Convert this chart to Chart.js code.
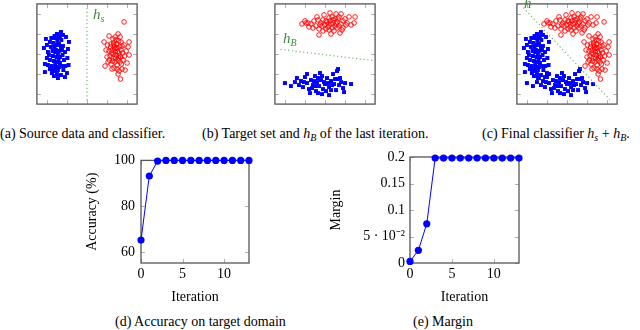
<!DOCTYPE html>
<html>
<head>
<meta charset="utf-8">
<script src="https://cdn.jsdelivr.net/npm/chart.js@4.4.0/dist/chart.umd.min.js"></script>
<style>
  body { margin:0; width:640px; height:330px; position:relative; overflow:hidden; background:#fff; font-family:'Liberation Serif', serif; }
  canvas { position:absolute; z-index:2; }
  .cap { position:absolute; z-index:1; font-size:14px; line-height:16px; white-space:nowrap; color:#000; }
  .lab { position:absolute; z-index:3; font-style:italic; color:#3d8a3d; font-size:15px; line-height:16px; white-space:nowrap; }
  .cap sub, .lab sub { font-size:10px; vertical-align:-3px; line-height:0; }
</style>
</head>
<body>
<div class="lab" style="left:93px;top:6px">h<sub>s</sub></div>
<div class="lab" style="left:283px;top:30px">h<sub>B</sub></div>
<div class="lab" style="left:524px;top:-5px">h</div>

<div class="cap" style="left:0px;top:126px">(a) Source data and classifier.</div>
<div class="cap" style="left:202px;top:126px">(b) Target set and <i>h</i><sub><i>B</i></sub> of the last iteration.</div>
<div class="cap" style="left:482px;top:126px">(c) Final classifier <i>h</i><sub><i>s</i></sub> + <i>h</i><sub><i>B</i></sub>.</div>
<div class="cap" style="left:115px;top:314px">(d) Accuracy on target domain</div>
<div class="cap" style="left:413px;top:314px">(e) Margin</div>

<canvas id="chartD" width="170" height="165" style="left:84px;top:146px"></canvas>
<canvas id="chartE" width="196" height="165" style="left:328px;top:146px"></canvas>
<canvas id="chartA" width="110" height="110" style="left:32px;top:-1px"></canvas>
<canvas id="chartB" width="110" height="110" style="left:270px;top:-1px"></canvas>
<canvas id="chartC" width="110" height="110" style="left:512px;top:-1px"></canvas>

<script>
// nuage source (a)
const sourceBlue = [[-1.55,0.2],[-1.4,0.5],[-1.7,-0.1],[-1.5,-0.4],[-1.6,0.8],[-1.3,1.1],[-1.85,0.6],[-2.15,0.3],[-1.95,0.1],[-1.45,-0.8],[-1.65,-1.1],[-1.3,-1.05],[-1.0,-0.95],[-0.95,0.25],[-0.98,-0.2],[-1.5,1.0],[-1.35,0.9],[-1.75,-0.6],[-1.6,-0.85],[-1.25,-0.6],[-1.2,0.4],[-1.15,-0.3],[-1.85,-0.3],[-1.9,-0.05],[-1.45,0.05],[-1.62,0.35],[-1.38,0.15],[-1.52,-0.15],[-1.68,0.55],[-1.42,-0.25],[-1.58,-0.55],[-1.28,0.7],[-1.72,0.15],[-1.8,0.35],[-1.35,-0.45],[-1.48,0.65],[-1.22,-0.05],[-1.65,-0.35],[-1.55,-0.7],[-1.4,-0.65],[-1.75,-0.95],[-1.45,-1.2],[-1.62,0.9],[-1.3,0.35],[-2.0,-0.2],[-1.5,0.45],[-1.25,0.2],[-1.7,-0.8],[-1.4,0.8],[-1.58,0.1],[-1.35,-0.15],[-1.78,0.8],[-1.18,-0.8],[-1.5,-1.0],[-1.85,-0.75],[-2.1,-0.5],[-0.9,0.6],[-1.05,0.85],[-2.05,0.75],[-1.1,-1.15],[-0.92,-0.55],[-2.1,-0.9],[-1.1,0.1],[-2.0,0.45],[-1.95,-0.55],[-1.08,-0.6],[-1.2,0.95]];
const sourceRed = [[1.4,0.1],[1.5,0.3],[1.3,-0.2],[1.6,-0.1],[1.2,0.5],[1.7,0.6],[1.1,0.9],[1.55,1.0],[1.65,0.85],[1.45,0.7],[1.35,0.45],[1.25,0.2],[1.15,-0.1],[1.05,-0.4],[0.9,-0.6],[0.85,0.6],[0.95,0.2],[1.0,-0.15],[1.2,-0.5],[1.35,-0.7],[1.5,-0.55],[1.6,-0.85],[1.75,-0.75],[1.9,-0.8],[2.0,-0.45],[2.1,-0.05],[2.05,0.35],[2.1,0.6],[1.95,0.15],[1.85,0.45],[1.8,-0.3],[1.7,0.2],[1.55,-0.3],[1.45,-0.05],[1.38,0.25],[1.28,-0.35],[1.48,0.5],[1.62,0.35],[1.72,-0.5],[1.4,-0.4],[1.3,0.0],[1.52,0.12],[1.6,0.05],[1.42,-0.2],[1.68,-0.15],[1.35,0.35],[1.22,0.05],[1.18,0.35],[1.1,0.15],[1.58,0.65],[1.78,0.05],[1.88,-0.1],[1.65,-0.4],[1.5,-0.75],[1.25,-0.75],[1.12,-0.3],[1.02,0.45],[1.4,0.85],[1.3,0.75],[1.85,1.6],[1.67,-1.25],[1.55,-1.0],[1.45,0.3],[1.58,-0.2],[1.33,0.55],[1.75,0.4]];
// ensemble cible (b)
const targetRed = [[-1.15,1.5],[-1.0,1.65],[-0.85,1.55],[-0.7,1.5],[-0.55,1.65],[-0.45,1.4],[-0.3,1.25],[-0.2,1.55],[-0.1,1.7],[0.0,1.45],[0.1,1.6],[0.2,1.8],[0.3,1.5],[0.4,1.7],[0.5,1.4],[0.6,1.6],[0.7,1.85],[0.8,1.5],[0.9,1.3],[1.0,1.75],[1.1,1.55],[1.3,1.45],[1.45,1.55],[1.5,1.85],[0.25,2.05],[0.55,2.0],[0.8,2.0],[-0.05,1.95],[-0.35,1.7],[-0.6,1.3],[-0.1,1.15],[0.2,1.2],[0.45,1.15],[0.75,1.05],[-0.3,0.95],[0.35,1.3],[0.15,1.35],[0.05,1.25],[0.6,1.3],[0.65,1.75],[0.35,1.85],[-0.15,1.4],[0.25,1.65],[0.5,1.75],[0.4,1.55],[0.9,1.65],[0.15,1.5],[-0.25,1.45],[0.7,1.4],[0.55,1.5],[-0.8,1.35],[-0.95,1.55],[1.2,1.85],[-0.4,1.85],[0.05,1.65],[0.3,1.0],[1.05,1.45],[0.85,1.2]];
const targetBlue = [[-2.0,-1.45],[-1.7,-1.6],[-1.4,-1.2],[-1.3,-1.55],[-1.2,-1.35],[-1.1,-1.65],[-1.0,-1.15],[-0.9,-1.45],[-0.8,-1.75],[-0.7,-1.3],[-0.6,-1.55],[-0.5,-1.1],[-0.45,-1.85],[-0.4,-1.4],[-0.3,-1.6],[-0.25,-0.95],[-0.2,-1.3],[-0.1,-1.75],[0.0,-1.5],[0.1,-1.2],[0.2,-1.65],[0.3,-1.35],[0.4,-1.0],[0.45,-1.5],[0.55,-1.8],[0.6,-1.25],[0.7,-1.55],[0.8,-1.4],[0.9,-1.7],[1.0,-1.45],[0.6,-0.85],[0.65,-0.75],[1.3,-1.5],[0.95,-1.9],[-0.15,-2.0],[0.2,-2.05],[-0.35,-1.95],[-0.9,-1.0],[-0.75,-1.95],[-0.55,-1.35],[-0.35,-1.2],[-0.05,-1.4],[0.15,-1.45],[0.3,-1.8],[-0.65,-1.7],[-1.05,-1.4],[0.5,-1.25],[0.75,-1.2],[-0.15,-1.1],[-1.5,-1.4],[0.35,-1.55],[-0.45,-1.6],[0.05,-1.85]];
// classifieurs (extrémités des droites)
const lineHs = [[0,-2.5],[0,2.5]];
const lineHB = [[-2.22,0.23],[2.36,-0.32]];
const lineH = [[-2.18,2.31],[2.13,-2.27]];
const scatterTicks = [-2,-1,0,1,2];

// courbes (d) et (e)
const iterations = [0,1,2,3,4,5,6,7,8,9,10,11,12,13];
const accuracy = [65.3,93.2,99.7,100,100,100,100,100,100,100,100,100,100,100];
const margin = [0.003,0.024,0.074,0.198,0.198,0.198,0.198,0.198,0.198,0.198,0.198,0.198,0.198,0.198];
const iterTicks = [0,5,10];
const accTicks = [60,80,100];
const marginTicks = [0,0.05,0.1,0.15,0.2];
const marginLabels = ['0','5 · 10⁻²','0.1','0.15','0.2'];

Chart.defaults.font.family = "'Liberation Serif', serif";
Chart.defaults.font.size = 14;
Chart.defaults.color = '#000';

// cadre + petites graduations vers l'intérieur
const boxPlugin = {
  id: 'box',
  beforeDatasetsDraw(chart) {
    const {ctx, chartArea: a, scales: {x, y}} = chart;
    ctx.save();
    ctx.strokeStyle = '#b0b0b0';
    ctx.lineWidth = 1;
    ctx.beginPath();
    x.ticks.forEach(t => {
      const px = Math.round(x.getPixelForValue(t.value)) + 0.5;
      ctx.moveTo(px, a.top); ctx.lineTo(px, a.top + 4);
      ctx.moveTo(px, a.bottom); ctx.lineTo(px, a.bottom - 4);
    });
    y.ticks.forEach(t => {
      const py = Math.round(y.getPixelForValue(t.value)) + 0.5;
      ctx.moveTo(a.left, py); ctx.lineTo(a.left + 4, py);
      ctx.moveTo(a.right, py); ctx.lineTo(a.right - 4, py);
    });
    ctx.stroke();
    ctx.strokeStyle = '#555';
    ctx.lineWidth = 1.3;
    ctx.strokeRect(a.left, a.top, a.right - a.left, a.bottom - a.top);
    ctx.restore();
  }
};

// étiquettes de l'axe y de (e), placées via l'échelle y
const marginLabelPlugin = {
  id: 'marginLabels',
  afterDraw(chart) {
    const {ctx, chartArea: a, scales: {y}} = chart;
    ctx.save();
    ctx.font = "14px 'Liberation Serif', serif";
    ctx.fillStyle = '#000';
    ctx.textAlign = 'right';
    ctx.textBaseline = 'middle';
    marginTicks.forEach((v, i) => {
      ctx.fillText(marginLabels[i], a.left - 5, y.getPixelForValue(v));
    });
    ctx.restore();
  }
};

function curveChart(id, values, yOpts, yTitle, yWidth, padTop, extra) {
  return new Chart(document.getElementById(id), {
    type: 'line',
    data: {
      datasets: [{
        data: iterations.map((it, i) => ({x: it, y: values[i]})),
        borderColor: '#0000ff',
        backgroundColor: '#0000ff',
        borderWidth: 1,
        pointRadius: 3.6,
        pointBorderWidth: 0,
        tension: 0,
        clip: false
      }]
    },
    options: {
      responsive: false,
      animation: false,
      layout: {padding: {top: padTop, right: 5, left: 0, bottom: 0}},
      plugins: {legend: {display: false}, tooltip: {enabled: false}},
      scales: {
        x: {
          type: 'linear', min: 0, max: 13,
          afterBuildTicks: s => { s.ticks = iterTicks.map(v => ({value: v})); },
          afterFit: s => { s.height = 48; },
          ticks: {padding: 3, maxRotation: 0, autoSkip: false},
          grid: {display: false, drawTicks: false},
          border: {display: false},
          title: {display: true, text: 'Iteration', padding: {top: 0, bottom: 5}}
        },
        y: Object.assign({
          afterFit: s => { s.width = yWidth; },
          grid: {display: false, drawTicks: false},
          border: {display: false},
          title: {display: true, text: yTitle, padding: 0}
        }, yOpts)
      }
    },
    plugins: [boxPlugin].concat(extra || [])
  });
}

curveChart('chartD', accuracy, {
  min: 55.3, max: 100,
  afterBuildTicks: s => { s.ticks = accTicks.map(v => ({value: v})); },
  ticks: {padding: 6, autoSkip: false}
}, 'Accuracy (%)', 57, 10);

curveChart('chartE', margin, {
  min: 0, max: 0.2,
  afterBuildTicks: s => { s.ticks = marginTicks.map(v => ({value: v})); },
  ticks: {display: false}
}, 'Margin', 82, 11, [marginLabelPlugin]);

const toXY = arr => arr.map(p => ({x: p[0], y: p[1]}));

function blueSet(pts) {
  return {data: toXY(pts), pointStyle: 'rect', pointRadius: 2.8, backgroundColor: '#0000ff', borderWidth: 0};
}
function redSet(pts) {
  return {data: toXY(pts), pointStyle: 'circle', pointRadius: 2.3, backgroundColor: 'rgba(0,0,0,0)', borderColor: '#ff0000', borderWidth: 0.9};
}
function lineSet(pts) {
  return {data: toXY(pts), showLine: true, pointRadius: 0, borderColor: 'rgba(110,170,110,0.9)', borderWidth: 1.2, borderDash: [1.2, 2.6]};
}

function hiddenAxis() {
  return {
    min: -2.5, max: 2.5,
    afterBuildTicks: s => { s.ticks = scatterTicks.map(v => ({value: v})); },
    afterFit: s => { s.width = 0; s.height = 0; },
    ticks: {display: false},
    grid: {display: false, drawTicks: false},
    border: {display: false}
  };
}

function scatterChart(id, sets) {
  return new Chart(document.getElementById(id), {
    type: 'scatter',
    data: {datasets: sets},
    options: {
      responsive: false,
      animation: false,
      layout: {padding: 1},
      plugins: {legend: {display: false}, tooltip: {enabled: false}},
      scales: {x: hiddenAxis(), y: hiddenAxis()}
    },
    plugins: [boxPlugin]
  });
}

scatterChart('chartA', [lineSet(lineHs), blueSet(sourceBlue), redSet(sourceRed)]);
scatterChart('chartB', [lineSet(lineHB), blueSet(targetBlue), redSet(targetRed)]);
scatterChart('chartC', [lineSet(lineH), blueSet(sourceBlue), blueSet(targetBlue), redSet(sourceRed), redSet(targetRed)]);
</script>
</body>
</html>
